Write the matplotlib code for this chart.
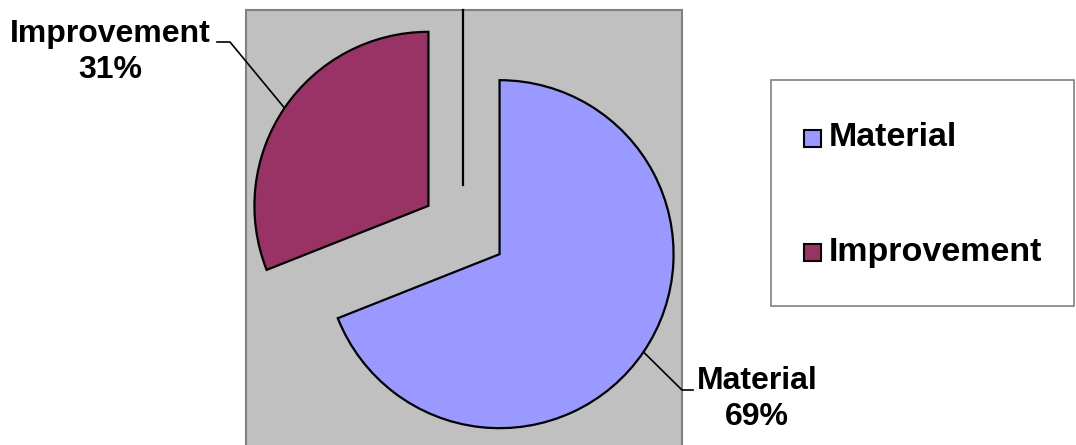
import numpy as np
import matplotlib
matplotlib.use("Agg")
import matplotlib.pyplot as plt
from matplotlib.patches import Rectangle

# data
labels = ["Material", "Improvement"]
shares = [69, 31]
colors = ["#9999FF", "#993366"]

W, H = 1076, 445
plt.rcParams["font.family"] = ["Liberation Sans", "DejaVu Sans"]

fig = plt.figure(figsize=(W / 100, H / 100), dpi=100)
ax = fig.add_axes([0, 0, 1, 1])

# pixel-like coordinates, y measured upward
def py(y):
    return H - y

# grey plot area
ax.add_patch(Rectangle((246, py(452)), 436, 442, facecolor="#C0C0C0",
                       edgecolor="#808080", linewidth=1.5, zorder=0))

# explode is an absolute offset in data units here
wedges, _ = ax.pie(shares, colors=colors, startangle=90, counterclock=False,
                   center=(464, py(230)), radius=174, explode=[43, 43],
                   wedgeprops=dict(edgecolor="black", linewidth=1.6),
                   frame=True)

# stray vertical line from the original picture
ax.plot([463, 463], [py(10), py(185)], color="black", lw=1.6, zorder=3)

# data labels with leader lines
label_pos = {"Material": (757, 399, 682, 693, 390),
             "Improvement": (110, 52, 230, 217, 42)}
for w, lab, val in zip(wedges, labels, shares):
    mid = np.deg2rad((w.theta1 + w.theta2) / 2)
    cx, cy = w.center
    ex, ey = cx + w.r * np.cos(mid), cy + w.r * np.sin(mid)
    tx, ty, kx, hx, ly = label_pos[lab]
    ax.plot([ex, kx, hx], [ey, py(ly), py(ly)], color="black", lw=1.2, zorder=3)
    ax.text(tx, py(ty), f"{lab}\n{val}%", ha="center", va="center",
            fontsize=23, fontweight="bold", linespacing=1.3, zorder=4)

# legend
ax.add_patch(Rectangle((771, py(306)), 303, 226, facecolor="white",
                       edgecolor="#808080", linewidth=1.2, zorder=2))
for i, (lab, col) in enumerate(zip(labels, colors)):
    yc = 138 + i * 114
    ax.add_patch(Rectangle((804, py(yc + 8.5)), 17, 17, facecolor=col,
                           edgecolor="black", linewidth=1.5, zorder=3))
    ax.text(829, py(yc), lab, ha="left", va="center", fontsize=24.5,
            fontweight="bold", zorder=4)

ax.set_xlim(0, W)
ax.set_ylim(0, H)
ax.set_aspect("equal")
ax.axis("off")

fig.savefig("out.png", dpi=100, facecolor="white")
